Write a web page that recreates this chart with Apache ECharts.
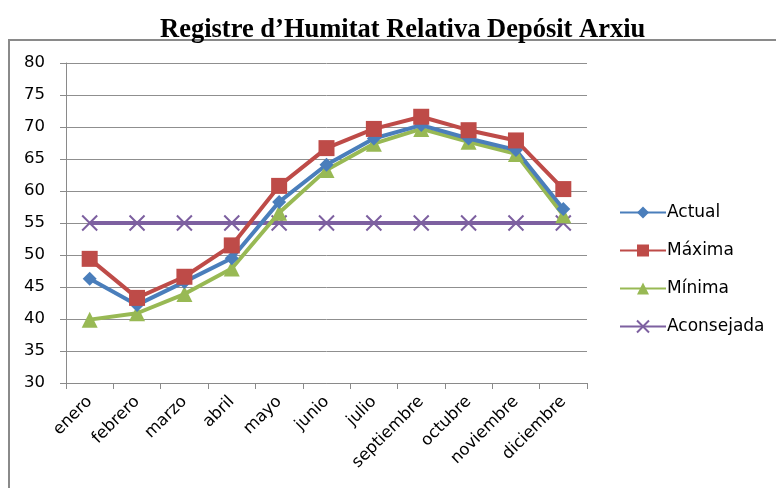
<!DOCTYPE html>
<html>
<head>
<meta charset="utf-8">
<script src="https://cdn.jsdelivr.net/npm/echarts@6/dist/echarts.min.js"></script>
<style>html,body{margin:0;padding:0;background:#fff}#c{width:776px;height:488px}</style>
</head>
<body>
<div id="c"></div>
<script>
const months = ['enero','febrero','marzo','abril','mayo','junio','julio','septiembre','octubre','noviembre','diciembre'];
const actual = [46.3, 42.2, 45.8, 49.5, 58.3, 64.1, 68.2, 70.3, 68.2, 66.4, 57.2];
const maxima = [49.4, 43.3, 46.6, 51.5, 60.8, 66.7, 69.7, 71.6, 69.5, 67.9, 60.3];
const minima = [39.9, 40.9, 43.9, 47.9, 56.6, 63.3, 67.4, 69.7, 67.7, 65.8, 56.2];
const aconsejada = [55, 55, 55, 55, 55, 55, 55, 55, 55, 55, 55];

const FONT = 'DejaVu Sans';
const chart = echarts.init(document.getElementById('c'), null, {renderer: 'canvas'});
function ser(name, data, color, symbol, size, extra) {
  return Object.assign({
    name, type: 'line', data, symbol, symbolSize: size,
    lineStyle: {color, width: 4},
    itemStyle: {color},
    z: 2
  }, extra || {});
}
chart.setOption({
  animation: false,
  title: {
    text: 'Registre d\u2019Humitat Relativa Depósit Arxiu',
    left: 155, top: 12,
    textStyle: {fontFamily: 'Liberation Serif', fontWeight: 'bold', fontSize: 26.5, color: '#000'}
  },
  graphic: [{
    type: 'rect', shape: {x: 9, y: 40, width: 820, height: 500},
    style: {fill: 'none', stroke: '#8a8a8a', lineWidth: 2}, silent: true
  }],
  grid: {left: 66, top: 63, right: 189, bottom: 105},
  legend: {
    orient: 'vertical', left: 614, top: 199, itemGap: 21,
    itemWidth: 46, itemHeight: 15,
    textStyle: {fontFamily: FONT, fontSize: 17, color: '#000', padding: [0,0,0,-4]},
    data: ['Actual','Máxima','Mínima','Aconsejada']
  },
  xAxis: {
    type: 'category', data: months, boundaryGap: true,
    axisLine: {lineStyle: {color: '#8a8a8a', width: 1}},
    axisTick: {show: true, length: 6, lineStyle: {color: '#8a8a8a'}},
    axisLabel: {rotate: 45, interval: 0, fontFamily: FONT, fontSize: 16.5, color: '#000', margin: 16}
  },
  yAxis: {
    type: 'value', min: 30, max: 80, interval: 5,
    axisLine: {show: true, lineStyle: {color: '#8a8a8a'}},
    axisTick: {show: true, length: 6, lineStyle: {color: '#8a8a8a'}},
    axisLabel: {fontFamily: FONT, fontSize: 16.5, color: '#000', margin: 21},
    splitLine: {lineStyle: {color: '#8f8f8f', width: 1}}
  },
  series: [
    ser('Aconsejada', aconsejada, '#7D60A0', 'path://M0,0L10,10M10,0L0,10', 15,
        {itemStyle: {color: 'rgba(0,0,0,0)', borderColor: '#7D60A0', borderWidth: 2}, z: 1}),
    ser('Mínima', minima, '#98B954', 'triangle', 16),
    ser('Actual', actual, '#4A7EBB', 'diamond', 14),
    ser('Máxima', maxima, '#BE4B48', 'rect', 16)
  ]
});
</script>
</body>
</html>
